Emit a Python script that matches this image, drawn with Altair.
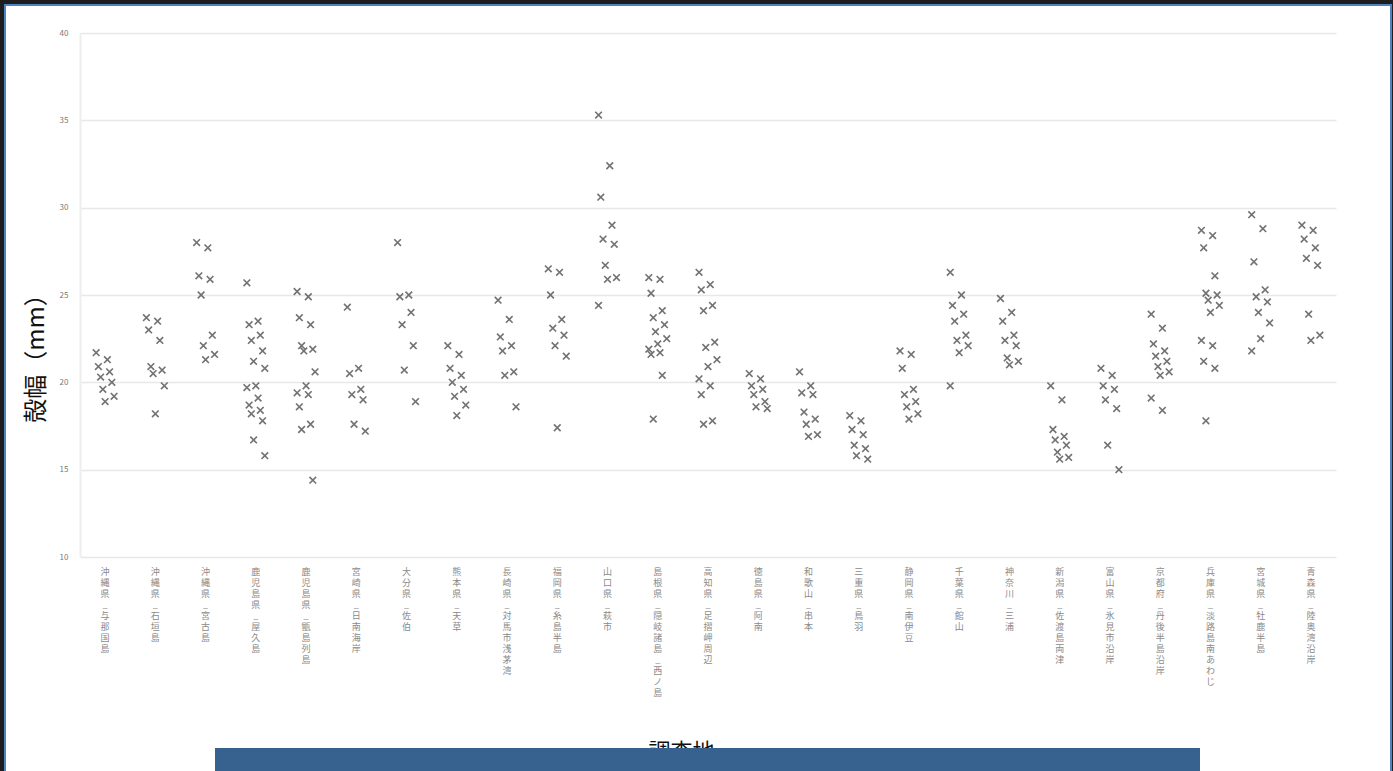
import altair as alt
import pandas as pd

# 調査地（横軸のカテゴリ）
SITES = [
    "沖縄県_与那国島", "沖縄県_石垣島", "沖縄県_宮古島", "鹿児島県_屋久島",
    "鹿児島県_甑島列島", "宮崎県_日南海岸", "大分県_佐伯", "熊本県_天草",
    "長崎県_対馬市浅茅湾", "福岡県_糸島半島", "山口県_萩市", "島根県_隠岐諸島_西ノ島",
    "高知県_足摺岬周辺", "徳島県_阿南", "和歌山_串本", "三重県_鳥羽",
    "静岡県_南伊豆", "千葉県_館山", "神奈川_三浦", "新潟県_佐渡島両津",
    "富山県_氷見市沿岸", "京都府_丹後半島沿岸", "兵庫県_淡路島南あわじ", "宮城県_牡鹿半島",
    "青森県_陸奥湾沿岸",
]

# 各調査地の殻幅 (mm)
SHELL_WIDTH = [
    [21.7, 21.3, 20.9, 20.6, 20.3, 20.0, 19.6, 19.2, 18.9],
    [23.7, 23.5, 23.0, 22.4, 20.9, 20.7, 20.5, 19.8, 18.2],
    [28.0, 27.7, 26.1, 25.9, 25.0, 22.7, 22.1, 21.6, 21.3],
    [25.7, 23.5, 23.3, 22.7, 22.4, 21.8, 21.2, 20.8, 19.8, 19.7, 19.1, 18.7, 18.4, 18.2, 17.8, 16.7, 15.8],
    [25.2, 24.9, 23.7, 23.3, 22.1, 21.9, 21.8, 20.6, 19.8, 19.4, 19.3, 18.6, 17.6, 17.3, 14.4],
    [24.3, 20.8, 20.5, 19.6, 19.3, 19.0, 17.6, 17.2],
    [28.0, 25.0, 24.9, 24.0, 23.3, 22.1, 20.7, 18.9],
    [22.1, 21.6, 20.8, 20.4, 20.0, 19.6, 19.2, 18.7, 18.1],
    [24.7, 23.6, 22.6, 22.1, 21.8, 20.6, 20.4, 18.6],
    [26.5, 26.3, 25.0, 23.6, 23.1, 22.7, 22.1, 21.5, 17.4],
    [35.3, 32.4, 30.6, 29.0, 28.2, 27.9, 26.7, 26.0, 25.9, 24.4],
    [26.0, 25.9, 25.1, 24.1, 23.7, 23.3, 22.9, 22.5, 22.2, 21.9, 21.7, 21.6, 20.4, 17.9],
    [26.3, 25.6, 25.3, 24.4, 24.1, 22.3, 22.0, 21.3, 20.9, 20.2, 19.8, 19.3, 17.8, 17.6],
    [20.5, 20.2, 19.8, 19.6, 19.3, 18.9, 18.6, 18.5],
    [20.6, 19.8, 19.4, 19.3, 18.3, 17.9, 17.6, 17.0, 16.9],
    [18.1, 17.8, 17.3, 17.0, 16.4, 16.2, 15.8, 15.6],
    [21.8, 21.6, 20.8, 19.6, 19.3, 18.9, 18.6, 18.2, 17.9],
    [26.3, 25.0, 24.4, 23.9, 23.5, 22.7, 22.4, 22.1, 21.7, 19.8],
    [24.8, 24.0, 23.5, 22.7, 22.4, 22.1, 21.4, 21.2, 21.0],
    [19.8, 19.0, 17.3, 16.9, 16.7, 16.4, 16.0, 15.7, 15.6],
    [20.8, 20.4, 19.8, 19.6, 19.0, 18.5, 16.4, 15.0],
    [23.9, 23.1, 22.2, 21.8, 21.5, 21.2, 20.9, 20.6, 20.4, 19.1, 18.4],
    [28.7, 28.4, 27.7, 26.1, 25.1, 25.0, 24.7, 24.4, 24.0, 22.4, 22.1, 21.2, 20.8, 17.8],
    [29.6, 28.8, 26.9, 25.3, 24.9, 24.6, 24.0, 23.4, 22.5, 21.8],
    [29.0, 28.7, 28.2, 27.7, 27.1, 26.7, 23.9, 22.7, 22.4],
]

Y_TICKS = [10, 15, 20, 25, 30, 35, 40]

rows = []
for site, vals in zip(SITES, SHELL_WIDTH):
    for i, v in enumerate(vals):
        rows.append({"site": site, "value": v, "idx": i})
df = pd.DataFrame(rows)

W, H = 1256, 524
FONT = "Noto Sans CJK JP"
X_MARK = "M-1,-1L1,1M-1,1L1,-1"

points = (
    alt.Chart(df)
    .transform_calculate(jit="((datum.idx * 5) % 9 - 4) / 4")
    .mark_point(shape=X_MARK, filled=False, size=44, strokeWidth=1.6,
                color="#505050", opacity=0.8)
    .encode(
        x=alt.X(
            "site:N", sort=SITES,
            scale=alt.Scale(paddingInner=0, paddingOuter=0),
            axis=alt.Axis(
                title="調査地", titleFont=FONT, titleFontSize=22, titleFontWeight="normal",
                titleColor="#111111", titleX=601, titleY=184, titleBaseline="top",
                titleAnchor="start", titleAlign="center",
                labelAngle=0, labelBaseline="top", labelAlign="center",
                labelExpr="split(datum.label, '')", labelLineHeight=11,
                labelFont=FONT, labelFontSize=9, labelColor="#8a8a8a",
                labelPadding=10, labelOverlap=False, labelLimit=0,
                ticks=False, domain=False, grid=False, zindex=0,
            ),
        ),
        xOffset=alt.XOffset("jit:Q", scale=alt.Scale(domain=[-2.8, 2.8])),
        y=alt.Y(
            "value:Q",
            scale=alt.Scale(domain=[10, 40], nice=False, zero=False),
            axis=alt.Axis(
                title="殻幅（mm）", titleFont=FONT, titleFontSize=24, titleFontWeight="normal",
                titleColor="#111111", titleX=-44, titleY=319, titleAngle=270,
                titleAlign="center", titleBaseline="middle",
                values=Y_TICKS, labelFont=FONT, labelFontSize=8, labelColor="#7a7a7a",
                labelPadding=12, ticks=False, domainColor="#eeeeee", domainWidth=2,
                gridColor="#e8e8e8", gridWidth=1.6, zindex=0,
            ),
        ),
    )
)

one = pd.DataFrame({"k": [0]})

# outer dark frame and inner blue line
dark_frame = alt.Chart(one).mark_rect(fill=None, stroke="#1e1e1e", strokeWidth=8).encode(
    x=alt.value(-80), x2=alt.value(1316), y=alt.value(-33), y2=alt.value(760)
)
blue_line = alt.Chart(one).mark_rect(fill=None, stroke="#4f83c4", strokeWidth=2).encode(
    x=alt.value(-75), x2=alt.value(1311), y=alt.value(-28), y2=alt.value(760)
)
# footer band
footer = alt.Chart(one).mark_rect(fill="#37618f").encode(
    x=alt.value(135), x2=alt.value(1120), y=alt.value(715), y2=alt.value(745)
)

chart = (
    alt.layer(points, footer, dark_frame, blue_line)
    .properties(
        width=W, height=H,
        autosize=alt.AutoSizeParams(type="none"),
        padding={"left": 80, "top": 33, "right": 57, "bottom": 214},
        background="white",
    )
    .configure_view(stroke=None)
)

chart.save("out.html", embed_options={"renderer": "svg", "actions": False})
